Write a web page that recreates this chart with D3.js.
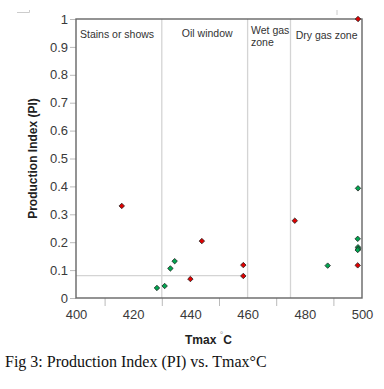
<!DOCTYPE html>
<html>
<head>
<meta charset="utf-8">
<script src="https://cdn.jsdelivr.net/npm/d3@7"></script>
<style>
  body { margin: 0; background: #fff; }
  svg { display: block; }
</style>
</head>
<body>
<div id="chart"></div>
<script>
var svgWidth = 384;
var svgHeight = 389;

var margin = { top: 19, left: 76, right: 22, bottom: 91 };
var width = svgWidth - margin.left - margin.right;
var height = svgHeight - margin.top - margin.bottom;

// data
var redTmax = [416, 440, 444, 458.5, 458.5, 476.5, 498.5, 498.6];
var redPI   = [0.33, 0.068, 0.204, 0.118, 0.079, 0.277, 0.117, 1.0];
var greenTmax = [428.3, 431, 433, 434.5, 488, 498.6, 498.5, 498.6, 498.7, 498.5];
var greenPI   = [0.036, 0.043, 0.106, 0.132, 0.116, 0.393, 0.212, 0.182, 0.176, 0.172];

var xTickLabels = [400, 420, 440, 460, 480, 500];
var xMinorTicks = [410, 430, 450, 470, 490];
var yTicks = [0, 0.1, 0.2, 0.3, 0.4, 0.5, 0.6, 0.7, 0.8, 0.9, 1];

var zoneBounds = [430, 460, 475];
var zoneLabels = [
  { lines: ["Stains or shows"], x: 401.4, y: 38 },
  { lines: ["Oil window"], x: 437, y: 37 },
  { lines: ["Wet gas", "zone"], x: 461.2, y: 34 },
  { lines: ["Dry gas zone"], x: 476.8, y: 39 }
];
var cutoffPI = 0.08;
var cutoffTmax = 458;

var svg = d3.select("#chart")
  .append("svg")
  .attr("width", svgWidth)
  .attr("height", svgHeight);

// stray marks from the original figure
svg.append("path").attr("d", "M17,12.5H29.5V10").attr("fill", "none").attr("stroke", "#ccc");
svg.append("line").attr("x1", 337).attr("x2", 337).attr("y1", 10).attr("y2", 15).attr("stroke", "#ccc");

var chartGroup = svg.append("g")
  .attr("transform", `translate(${margin.left}, ${margin.top})`);

var x = d3.scaleLinear().domain([400, 500]).range([0, width]);
var y = d3.scaleLinear().domain([0, 1]).range([height, 0]);

// zone boundaries
chartGroup.selectAll(".zone")
  .data(zoneBounds)
  .enter()
  .append("line")
  .attr("x1", d => x(d))
  .attr("x2", d => x(d))
  .attr("y1", 0)
  .attr("y2", height)
  .attr("stroke", "#d4d4d4")
  .attr("stroke-width", 1.3);

chartGroup.append("line")
  .attr("x1", 0)
  .attr("x2", x(cutoffTmax))
  .attr("y1", y(cutoffPI))
  .attr("y2", y(cutoffPI))
  .attr("stroke", "#d4d4d4")
  .attr("stroke-width", 1.3);

// zone labels
zoneLabels.forEach(function(z) {
  var t = chartGroup.append("text")
    .attr("x", x(z.x))
    .attr("y", z.y - margin.top)
    .attr("font-family", "Liberation Sans, Arial, sans-serif")
    .attr("font-size", 10.5)
    .attr("fill", "#333");
  z.lines.forEach(function(l, i) {
    t.append("tspan").attr("x", x(z.x)).attr("dy", i == 0 ? 0 : 11.5).text(l);
  });
});

// axes
var leftAxis = d3.axisLeft(y)
  .tickValues(yTicks)
  .tickFormat(d => String(+d.toFixed(1)))
  .tickSize(6)
  .tickSizeOuter(0)
  .tickPadding(2);

var yAxis = chartGroup.append("g").call(leftAxis);

var bottomAxis = d3.axisBottom(x)
  .tickValues(xTickLabels)
  .tickSize(0)
  .tickPadding(12);

var xAxis = chartGroup.append("g")
  .attr("transform", `translate(0, ${height})`)
  .call(bottomAxis);

var minorAxis = d3.axisBottom(x)
  .tickValues(xMinorTicks)
  .tickFormat("")
  .tickSize(8)
  .tickSizeOuter(0);

chartGroup.append("g")
  .attr("transform", `translate(0, ${height})`)
  .call(minorAxis)
  .select(".domain").remove();

[yAxis, xAxis].forEach(function(a) {
  a.select(".domain").remove();
  a.selectAll("text")
    .attr("font-family", "Liberation Sans, Arial, sans-serif")
    .attr("font-size", 13)
    .attr("fill", "#3a3a3a");
});
chartGroup.selectAll(".tick line").attr("stroke", "#bbb");

// frame
chartGroup.append("rect")
  .attr("x", 0)
  .attr("y", 0)
  .attr("width", width)
  .attr("height", height)
  .attr("fill", "none")
  .attr("stroke", "#666")
  .attr("stroke-width", 1.4);

// points
var diamond = d3.symbol().type(d3.symbolDiamond2).size(19);

function addPoints(xs, ys, color) {
  chartGroup.selectAll(null)
    .data(xs.map((v, i) => [v, ys[i]]))
    .enter()
    .append("path")
    .attr("d", diamond)
    .attr("transform", d => `translate(${x(d[0])}, ${y(d[1])})`)
    .attr("fill", color)
    .attr("stroke", "#222")
    .attr("stroke-width", 0.8);
}
addPoints(greenTmax, greenPI, "#00a650");
addPoints(redTmax, redPI, "#e00000");

// axis titles
svg.append("text")
  .attr("transform", "rotate(-90)")
  .attr("x", -(margin.top + height / 2))
  .attr("y", 37)
  .attr("text-anchor", "middle")
  .attr("font-family", "Liberation Sans, Arial, sans-serif")
  .attr("font-weight", "bold")
  .attr("font-size", 12)
  .attr("fill", "#222")
  .text("Production Index (PI)");

var xTitle = svg.append("text")
  .attr("x", 185)
  .attr("y", 344)
  .attr("font-family", "Liberation Sans, Arial, sans-serif")
  .attr("font-weight", "bold")
  .attr("font-size", 12)
  .attr("fill", "#222");
xTitle.append("tspan").text("Tmax ");
xTitle.append("tspan").attr("font-size", 9).attr("font-weight", "normal").attr("fill", "#999").attr("dy", -6).text("°");
xTitle.append("tspan").attr("dy", 6).text("C");

// caption
svg.append("text")
  .attr("x", 5)
  .attr("y", 367)
  .attr("font-family", "Liberation Serif, Times New Roman, serif")
  .attr("font-size", 16)
  .attr("fill", "#111")
  .text("Fig 3: Production Index (PI) vs. Tmax°C");
</script>
</body>
</html>
